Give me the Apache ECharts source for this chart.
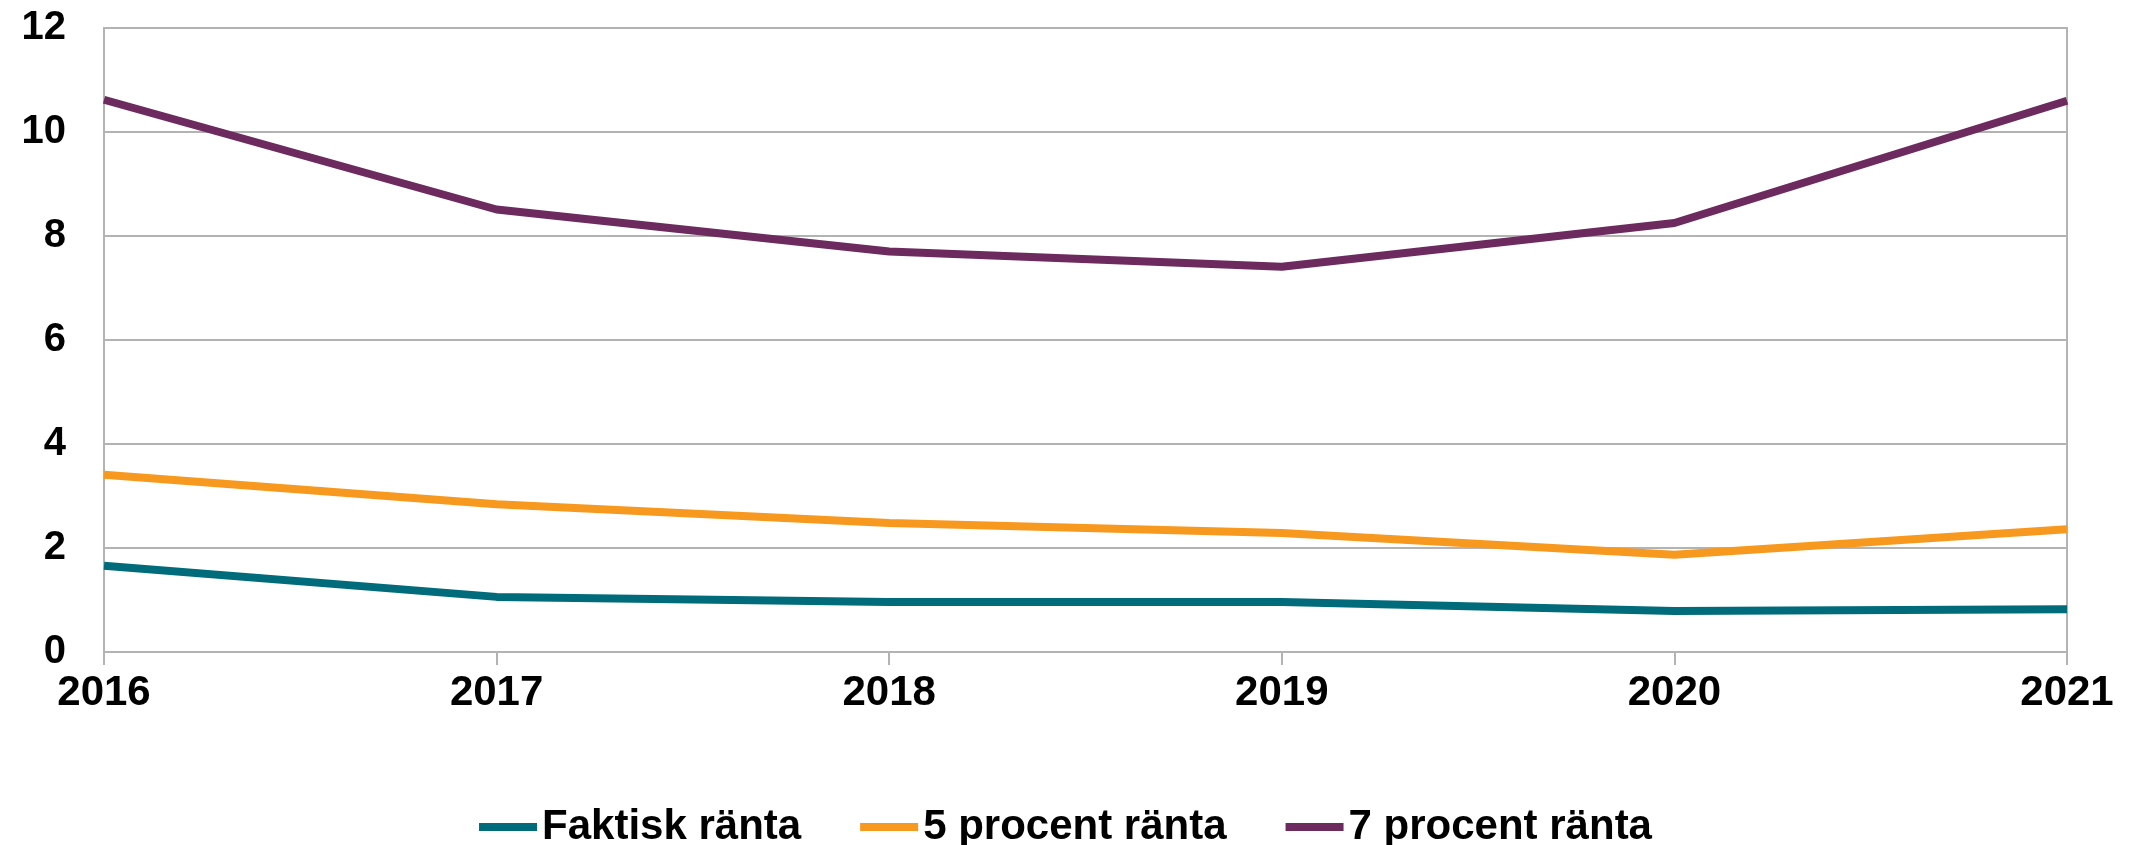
<!DOCTYPE html>
<html>
<head>
<meta charset="utf-8">
<script src="https://cdn.jsdelivr.net/npm/echarts@6/dist/echarts.min.js"></script>
<style>
  html, body { margin: 0; padding: 0; background: #fff; }
  #chart { width: 2131px; height: 845px; }
</style>
</head>
<body>
<div id="chart"></div>
<script>
// data
var years = ['2016', '2017', '2018', '2019', '2020', '2021']
var faktisk = [1.66, 1.06, 0.96, 0.96, 0.79, 0.82]
var procent5 = [3.41, 2.84, 2.48, 2.29, 1.87, 2.36]
var procent7 = [10.62, 8.51, 7.70, 7.41, 8.25, 10.60]
var seriesNames = ['Faktisk ränta', '5 procent ränta', '7 procent ränta']

var colorMap = ['#006b7a', '#f7981f', '#6c2a5f']
var gridColor = '#b3b3b3'
var font = '"Liberation Sans", Arial, sans-serif'

var chart = echarts.init(document.getElementById('chart'))

function lineSeries(name, data, i) {
  return {
    name: name,
    type: 'line',
    data: data,
    symbol: 'none',
    smooth: false,
    animation: false,
    itemStyle: { color: colorMap[i] },
    lineStyle: { color: colorMap[i], width: 8 }
  }
}

chart.setOption({
  textStyle: { fontFamily: font },
  grid: {
    left: 104,
    right: 64,
    top: 28,
    bottom: 193,
    show: true,
    borderColor: gridColor,
    borderWidth: 2
  },
  legend: {
    data: seriesNames,
    top: 801,
    left: 'center',
    icon: 'rect',
    itemWidth: 58,
    itemHeight: 8,
    itemGap: 59,
    textStyle: { fontSize: 42, fontWeight: 'bold', color: '#000', fontFamily: font }
  },
  xAxis: {
    type: 'category',
    data: years,
    boundaryGap: false,
    axisLine: { lineStyle: { color: gridColor, width: 2 } },
    axisTick: { show: true, length: 13, lineStyle: { color: gridColor, width: 2 } },
    splitLine: { show: false },
    axisLabel: {
      fontSize: 42,
      fontWeight: 'bold',
      color: '#000',
      margin: 20,
      fontFamily: font,
      alignMinLabel: 'center',
      alignMaxLabel: 'center'
    }
  },
  yAxis: {
    type: 'value',
    min: 0,
    max: 12,
    interval: 2,
    axisLine: { show: true, lineStyle: { color: gridColor, width: 2 } },
    axisTick: { show: false },
    splitLine: { lineStyle: { color: gridColor, width: 2 } },
    axisLabel: { fontSize: 40, fontWeight: 'bold', color: '#000', margin: 38, fontFamily: font }
  },
  series: [
    lineSeries(seriesNames[0], faktisk, 0),
    lineSeries(seriesNames[1], procent5, 1),
    lineSeries(seriesNames[2], procent7, 2)
  ]
})
</script>
</body>
</html>
